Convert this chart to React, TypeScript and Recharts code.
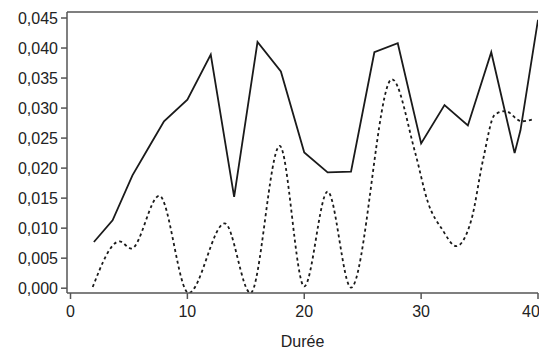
import { LineChart, Line, XAxis, YAxis, ReferenceLine } from 'recharts';

// solid series (x, value)
const solidX = [2, 3.6, 5.3, 6.8, 8, 10, 12, 14, 16, 18, 20, 22, 24, 26, 28, 30, 32, 34, 36, 38, 38.5, 40];
const solidY = [0.0077, 0.0113, 0.0188, 0.0238, 0.0278, 0.0314, 0.0389, 0.0152, 0.041, 0.0361, 0.0226, 0.0193, 0.0194, 0.0393, 0.0408, 0.0241, 0.0305, 0.0271, 0.0393, 0.0225, 0.0263, 0.0447];

// dashed series (x, value)
const dashX = [1.9, 4.2, 5.2, 7.6, 10.1, 13.2, 15.4, 17.9, 20, 22, 24, 27.5, 29.5, 30.6, 31.8, 33, 34.3, 35.3, 36.3, 37.2, 38.6, 39.5];
const dashY = [0.0002, 0.0078, 0.0066, 0.0154, -0.0008, 0.0108, -0.0008, 0.0237, 0.0003, 0.0161, 0.0001, 0.0348, 0.0225, 0.0142, 0.0098, 0.007, 0.0114, 0.0214, 0.0289, 0.0295, 0.0278, 0.0281];

const xTicks = [0, 10, 20, 30, 40];
const yTicks = [0, 0.005, 0.01, 0.015, 0.02, 0.025, 0.03, 0.035, 0.04, 0.045];

const solidData = solidX.map((x, i) => ({ x, v: solidY[i] }));
const dashData = dashX.map((x, i) => ({ x, v: dashY[i] }));

const FONT = '"Liberation Sans", Arial, sans-serif';
const axisColor = '#555';

export default function App() {
  return (
    <div style={{ position: 'absolute', left: 0, top: 0, fontFamily: FONT }}>
      <LineChart width={539} height={351} margin={{ top: 12, right: 1, bottom: 0, left: 0 }}>
        <XAxis
          dataKey="x"
          type="number"
          domain={[-0.3, 40]}
          ticks={xTicks}
          allowDataOverflow
          height={58}
          tickSize={6}
          tickMargin={7}
          stroke={axisColor}
          strokeWidth={1.5}
          tick={{ fill: '#222', fontSize: 16, fontFamily: FONT }}
          label={{ value: 'Durée', position: 'insideBottom', offset: 4, fill: '#222', fontSize: 16, fontFamily: FONT }}
        />
        <YAxis
          type="number"
          domain={[-0.0008, 0.046]}
          ticks={yTicks}
          allowDataOverflow
          width={67}
          tickSize={6}
          tickMargin={3}
          stroke={axisColor}
          strokeWidth={1.5}
          tick={{ fill: '#222', fontSize: 16, fontFamily: FONT }}
          tickFormatter={(v: number) => v.toFixed(3).replace('.', ',')}
        />
        <ReferenceLine y={0.046} stroke={axisColor} strokeWidth={1.5} />
        <Line
          data={solidData}
          dataKey="v"
          type="linear"
          stroke="#1a1a1a"
          strokeWidth={1.8}
          dot={false}
          isAnimationActive={false}
        />
        <Line
          data={dashData}
          dataKey="v"
          type="monotoneX"
          stroke="#1a1a1a"
          strokeWidth={1.8}
          strokeDasharray="3 3"
          dot={false}
          isAnimationActive={false}
        />
      </LineChart>
    </div>
  );
}
